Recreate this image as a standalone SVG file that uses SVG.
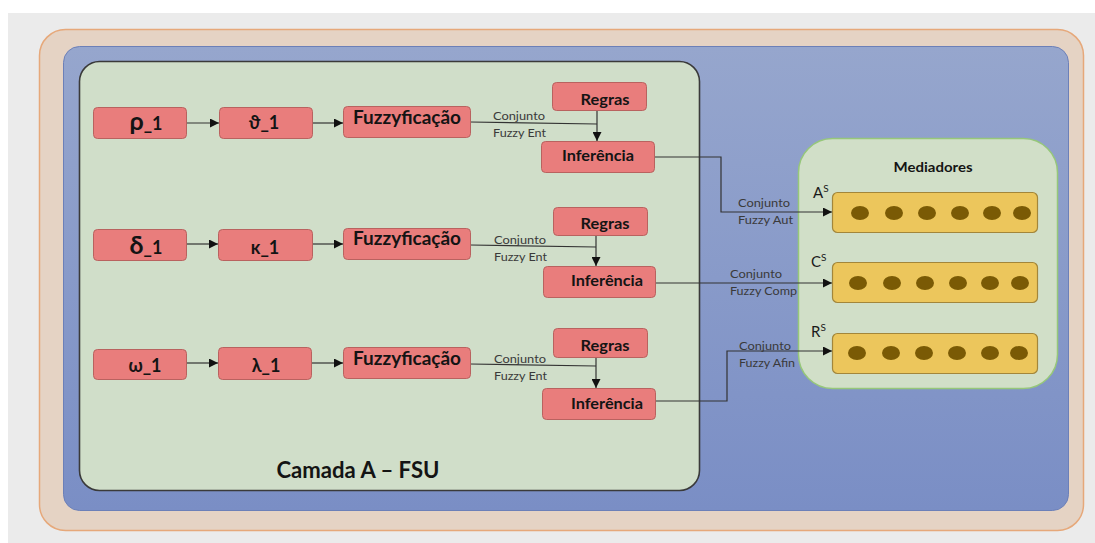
<svg xmlns="http://www.w3.org/2000/svg" width="1095" height="543" viewBox="0 0 1095 543">
<defs>
<linearGradient id="blueG" x1="0" y1="0" x2="0" y2="1">
<stop offset="0" stop-color="#96a6cd"/>
<stop offset="1" stop-color="#7a8ec5"/>
</linearGradient>
<marker id="arr" viewBox="0 0 10 10" refX="10" refY="5" markerWidth="9" markerHeight="9" markerUnits="userSpaceOnUse" orient="auto">
<path d="M0,0 L10,5 L0,10 z" fill="#111"/>
</marker>
<style>
.nd{fill:#e97d7c;stroke:#b9625f;stroke-width:1}
.nt{font-family:Lato,"Liberation Sans","DejaVu Sans",sans-serif;font-weight:bold;fill:#141414;text-anchor:middle}
.gk{font-family:Lato,"Noto Sans","DejaVu Sans",sans-serif;font-weight:bold;fill:#141414;text-anchor:middle;font-size:18px}
.lb{font-family:Lato,"Liberation Sans",sans-serif;font-size:11px;fill:#3a3a3a}
.cn{fill:none;stroke:#333;stroke-width:1.2}
.med{fill:#ecc65c;stroke:#a3863a;stroke-width:1.2}
.dot{fill:#7a5a05}
.ml{font-family:Lato,"Liberation Sans",sans-serif;font-size:15px;fill:#1a1a1a}
.sup{font-size:10px}
</style>
</defs>
<rect x="0" y="0" width="1095" height="543" fill="#ffffff"/>
<rect x="8" y="13" width="1087" height="530" fill="#ebebeb"/>
<g id="frame-outer"><rect x="39.5" y="29.5" width="1044" height="501" rx="26" fill="#e5d3c4" stroke="#e6a87a" stroke-width="1.5"/></g>
<g id="frame-blue"><rect x="63.5" y="46.5" width="1005" height="464" rx="16" fill="url(#blueG)" stroke="#6c80b8" stroke-width="1"/></g>
<g id="camada-a"><rect x="79.5" y="61.5" width="620" height="429" rx="20" fill="#d0dec9" stroke="#3a3a3a" stroke-width="1.6"/>
<text x="358" y="478" class="nt" font-size="22" textLength="163" lengthAdjust="spacingAndGlyphs">Camada A – FSU</text></g>
<g id="mediadores"><rect x="798.5" y="138.5" width="259" height="250" rx="34" fill="#d1dfc8" stroke="#96c77a" stroke-width="1.5"/>
<text x="933" y="172" class="nt" font-size="13.5" textLength="79" lengthAdjust="spacingAndGlyphs">Mediadores</text></g>

<g id="connectors">
<path class="cn" d="M186,123 H219" marker-end="url(#arr)"/>
<path class="cn" d="M312,123 H343" marker-end="url(#arr)"/>
<path class="cn" d="M470,122 L597,124"/>
<path class="cn" d="M597,110 V141" marker-end="url(#arr)"/>
<path class="cn" d="M654,157 H721 V212 H832" marker-end="url(#arr)"/>
<path class="cn" d="M187,244 H218" marker-end="url(#arr)"/>
<path class="cn" d="M312,244 H343" marker-end="url(#arr)"/>
<path class="cn" d="M470,245 L596,247"/>
<path class="cn" d="M596,235 V266" marker-end="url(#arr)"/>
<path class="cn" d="M655,283 H832" marker-end="url(#arr)"/>
<path class="cn" d="M186,363 H218" marker-end="url(#arr)"/>
<path class="cn" d="M311,363 H343" marker-end="url(#arr)"/>
<path class="cn" d="M470,364 L596,366"/>
<path class="cn" d="M596,357 V388" marker-end="url(#arr)"/>
<path class="cn" d="M655,401 H727 V351 H832" marker-end="url(#arr)"/>
<text class="lb" x="493" y="120" textLength="52" lengthAdjust="spacingAndGlyphs">Conjunto</text>
<text class="lb" x="493" y="137" textLength="53" lengthAdjust="spacingAndGlyphs">Fuzzy Ent</text>
<text class="lb" x="494" y="244" textLength="52" lengthAdjust="spacingAndGlyphs">Conjunto</text>
<text class="lb" x="494" y="261" textLength="53" lengthAdjust="spacingAndGlyphs">Fuzzy Ent</text>
<text class="lb" x="494" y="363" textLength="52" lengthAdjust="spacingAndGlyphs">Conjunto</text>
<text class="lb" x="494" y="380" textLength="53" lengthAdjust="spacingAndGlyphs">Fuzzy Ent</text>
<text class="lb" x="738" y="207" textLength="52" lengthAdjust="spacingAndGlyphs">Conjunto</text>
<text class="lb" x="738" y="224" textLength="55" lengthAdjust="spacingAndGlyphs">Fuzzy Aut</text>
<text class="lb" x="730" y="278" textLength="52" lengthAdjust="spacingAndGlyphs">Conjunto</text>
<text class="lb" x="730" y="295" textLength="67" lengthAdjust="spacingAndGlyphs">Fuzzy Comp</text>
<text class="lb" x="739" y="350" textLength="52" lengthAdjust="spacingAndGlyphs">Conjunto</text>
<text class="lb" x="739" y="367" textLength="56" lengthAdjust="spacingAndGlyphs">Fuzzy Afin</text>
</g>

<g id="n-rho"><rect class="nd" x="93.5" y="107.5" width="93" height="31" rx="4"/><text class="gk" x="146" y="130"><tspan font-size="25">ρ</tspan>_1</text></g>
<g id="n-theta"><rect class="nd" x="219.5" y="107.5" width="93" height="31" rx="4"/><text class="gk" x="264" y="129">ϑ_1</text></g>
<g id="n-fuzzy1"><rect class="nd" x="343.5" y="106.5" width="127" height="31" rx="4"/><text class="nt" x="407" y="124" font-size="18" textLength="108" lengthAdjust="spacingAndGlyphs">Fuzzyficação</text></g>
<g id="n-regras1"><rect class="nd" x="552.5" y="82.5" width="94" height="28" rx="4"/><text class="nt" x="605" y="105" font-size="14.5" textLength="49" lengthAdjust="spacingAndGlyphs">Regras</text></g>
<g id="n-inf1"><rect class="nd" x="541.5" y="141.5" width="113" height="31" rx="4"/><text class="nt" x="598" y="161" font-size="15.5" textLength="72" lengthAdjust="spacingAndGlyphs">Inferência</text></g>

<g id="n-delta"><rect class="nd" x="93.5" y="229.5" width="93" height="31" rx="4"/><text class="gk" x="146" y="254"><tspan font-size="25">δ</tspan>_1</text></g>
<g id="n-kappa"><rect class="nd" x="218.5" y="229.5" width="94" height="31" rx="4"/><text class="gk" x="265" y="254">κ_1</text></g>
<g id="n-fuzzy2"><rect class="nd" x="343.5" y="228.5" width="127" height="31" rx="4"/><text class="nt" x="407" y="245" font-size="18" textLength="108" lengthAdjust="spacingAndGlyphs">Fuzzyficação</text></g>
<g id="n-regras2"><rect class="nd" x="553.5" y="207.5" width="94" height="28" rx="4"/><text class="nt" x="605" y="229" font-size="14.5" textLength="49" lengthAdjust="spacingAndGlyphs">Regras</text></g>
<g id="n-inf2"><rect class="nd" x="543.5" y="266.5" width="112" height="31" rx="4"/><text class="nt" x="607" y="286" font-size="15.5" textLength="72" lengthAdjust="spacingAndGlyphs">Inferência</text></g>

<g id="n-omega"><rect class="nd" x="93.5" y="349.5" width="93" height="30" rx="4"/><text class="gk" x="145" y="372">ω_1</text></g>
<g id="n-lambda"><rect class="nd" x="218.5" y="347.5" width="93" height="32" rx="4"/><text class="gk" x="266" y="372">λ_1</text></g>
<g id="n-fuzzy3"><rect class="nd" x="343.5" y="347.5" width="127" height="31" rx="4"/><text class="nt" x="407" y="365" font-size="18" textLength="108" lengthAdjust="spacingAndGlyphs">Fuzzyficação</text></g>
<g id="n-regras3"><rect class="nd" x="553.5" y="328.5" width="94" height="29" rx="4"/><text class="nt" x="605" y="351" font-size="14.5" textLength="49" lengthAdjust="spacingAndGlyphs">Regras</text></g>
<g id="n-inf3"><rect class="nd" x="542.5" y="388.5" width="113" height="31" rx="4"/><text class="nt" x="607" y="409" font-size="15.5" textLength="72" lengthAdjust="spacingAndGlyphs">Inferência</text></g>

<g id="m-A"><rect class="med" x="832.5" y="192.5" width="205" height="40" rx="5"/>
<text class="ml" x="813" y="198">A<tspan class="sup" dy="-6">S</tspan></text>
<ellipse class="dot" cx="860" cy="213" rx="9" ry="7"/><ellipse class="dot" cx="894" cy="213" rx="9" ry="7"/><ellipse class="dot" cx="927" cy="213" rx="9" ry="7"/><ellipse class="dot" cx="960" cy="213" rx="9" ry="7"/><ellipse class="dot" cx="992" cy="213" rx="9" ry="7"/><ellipse class="dot" cx="1022" cy="213" rx="9" ry="7"/></g>
<g id="m-C"><rect class="med" x="832.5" y="262.5" width="205" height="40" rx="5"/>
<text class="ml" x="811" y="267">C<tspan class="sup" dy="-6">S</tspan></text>
<ellipse class="dot" cx="858" cy="283" rx="9" ry="7"/><ellipse class="dot" cx="892" cy="283" rx="9" ry="7"/><ellipse class="dot" cx="925" cy="283" rx="9" ry="7"/><ellipse class="dot" cx="958" cy="283" rx="9" ry="7"/><ellipse class="dot" cx="990" cy="283" rx="9" ry="7"/><ellipse class="dot" cx="1020" cy="283" rx="9" ry="7"/></g>
<g id="m-R"><rect class="med" x="832.5" y="333.5" width="205" height="40" rx="5"/>
<text class="ml" x="811" y="337">R<tspan class="sup" dy="-6">S</tspan></text>
<ellipse class="dot" cx="857" cy="353" rx="9" ry="7"/><ellipse class="dot" cx="891" cy="353" rx="9" ry="7"/><ellipse class="dot" cx="924" cy="353" rx="9" ry="7"/><ellipse class="dot" cx="957" cy="353" rx="9" ry="7"/><ellipse class="dot" cx="990" cy="353" rx="9" ry="7"/><ellipse class="dot" cx="1019" cy="353" rx="9" ry="7"/></g>
</svg>
